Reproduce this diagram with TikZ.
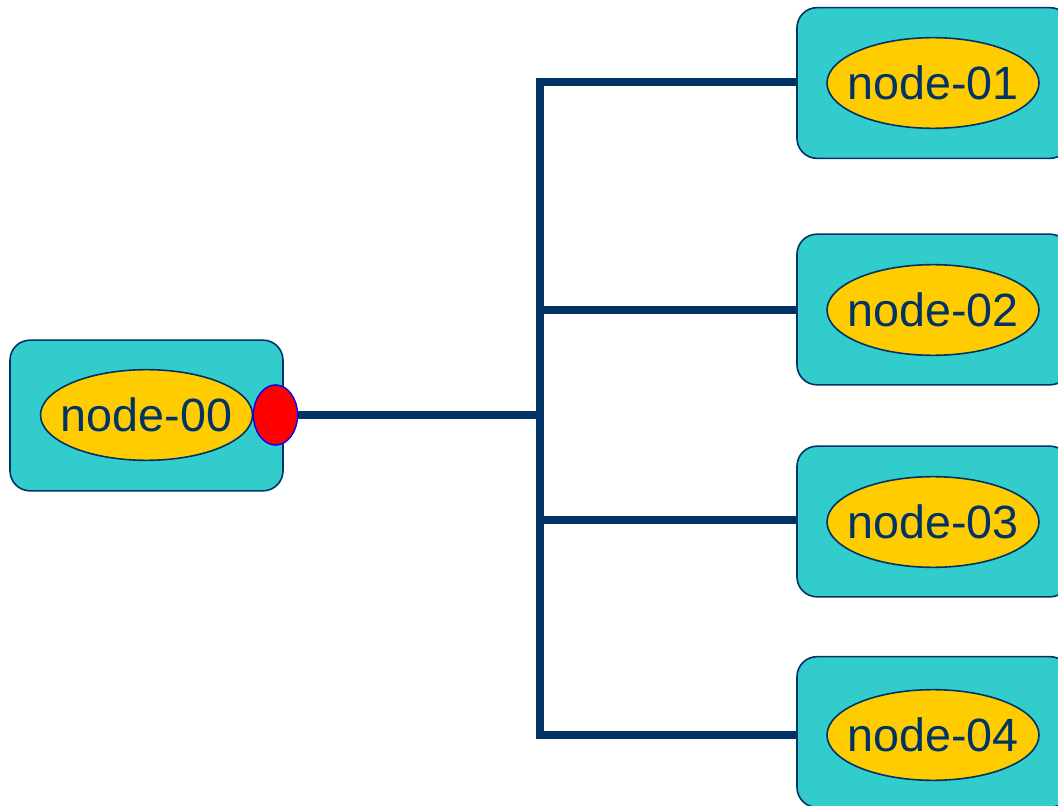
\documentclass[tikz,border=0pt]{standalone}
\usepackage{fontspec}
\setmainfont{Liberation Sans}
\usetikzlibrary{shapes.geometric}
\definecolor{navy}{HTML}{003366}
\definecolor{teal}{HTML}{33CCCC}
\definecolor{gold}{HTML}{FFCC00}
\tikzset{
  panel/.style={draw=navy, line width=1.2pt, fill=teal, rounded corners=15pt,
    minimum width=204.75pt, minimum height=113pt, inner sep=0pt},
  tag/.style={ellipse, draw=navy, line width=1.2pt, fill=gold, text=navy,
    minimum width=159pt, minimum height=68pt, inner xsep=-9pt, inner ysep=-20pt,
    font=\fontsize{35}{42}\selectfont},
  port/.style={ellipse, draw=blue, line width=0.9pt, fill=red,
    minimum width=33pt, minimum height=45pt, inner sep=0pt},
  wire/.style={draw=navy, line width=5.5pt}
}
\begin{document}
\begin{tikzpicture}[x=0.75pt, y=-0.75pt]
  \useasboundingbox (0,0) rectangle (1058,806);
  \clip (0,0) rectangle (1058,806);

  % source panel with its output port
  \node[panel] (p0) at (146.5,415.5) {};
  \node[tag] (n0) at (146.5,415) {node-00};
  \node[port] (out) at (275.5,415) {};

  % target panels
  \node[panel] (p1) at (933.5,83)  {};
  \node[panel] (p2) at (933.5,309.5) {};
  \node[panel] (p3) at (933.5,521.5) {};
  \node[panel] (p4) at (933.5,732) {};
  \node[tag] (n1) at (933,83)  {node-01};
  \node[tag] (n2) at (933,310) {node-02};
  \node[tag] (n3) at (933,522) {node-03};
  \node[tag] (n4) at (933,735) {node-04};

  % bus junctions
  \coordinate (j0) at (540,415);
  \coordinate (j1) at (540,82);
  \coordinate (j2) at (540,310);
  \coordinate (j3) at (540,520);
  \coordinate (j4) at (540,735);

  % connectors
  \draw[wire] (out.east) -- (j0);
  \draw[wire] (j1) -- (p1.west |- j1);
  \draw[wire] (j2) -- (p2.west |- j2);
  \draw[wire] (j3) -- (p3.west |- j3);
  \draw[wire] (j4) -- (p4.west |- j4);
  \draw[wire, line cap=rect] (j1) -- (j4);

  % redraw the port over the wire end
  \node[port] at (out) {};
\end{tikzpicture}
\end{document}
